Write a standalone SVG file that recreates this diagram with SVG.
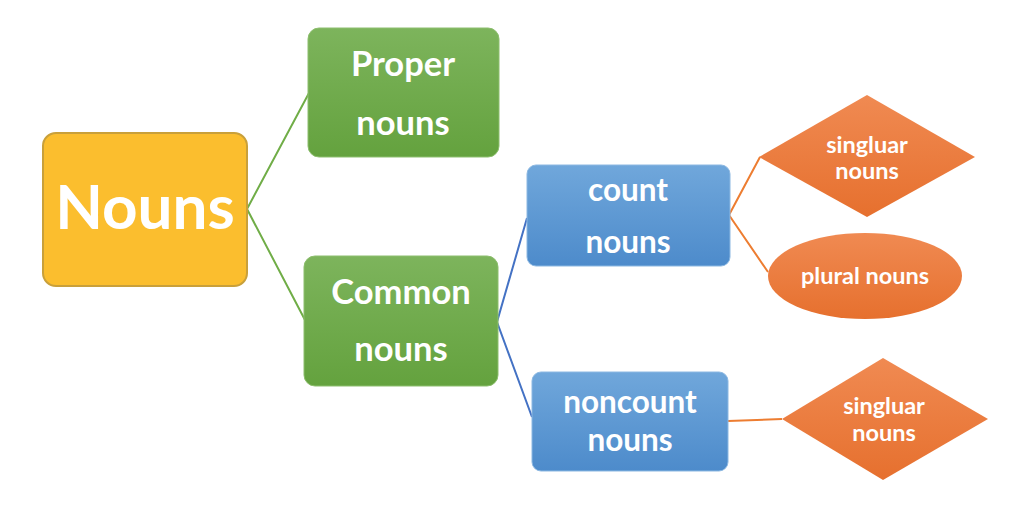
<svg xmlns="http://www.w3.org/2000/svg" width="1024" height="512" viewBox="0 0 1024 512">
<defs>
<linearGradient id="gGreen" x1="0" y1="0" x2="0" y2="1"><stop offset="0" stop-color="#7DB45C"/><stop offset="1" stop-color="#64A23E"/></linearGradient>
<linearGradient id="gBlue" x1="0" y1="0" x2="0" y2="1"><stop offset="0" stop-color="#70A7DB"/><stop offset="1" stop-color="#4D8BCB"/></linearGradient>
<linearGradient id="gOrange" x1="0" y1="0" x2="0" y2="1"><stop offset="0" stop-color="#F08A52"/><stop offset="1" stop-color="#E6702E"/></linearGradient>
</defs>
<style>
text{font-family:Lato,"Open Sans","Liberation Sans",sans-serif;font-weight:bold;fill:#FFFFFF;text-anchor:middle}
.green{fill:url(#gGreen);stroke:#8DBE6E;stroke-width:1}
.blue{fill:url(#gBlue);stroke:#8CB8E2;stroke-width:1}
.orange{fill:url(#gOrange);stroke:none}
.cg{stroke:#70AD47;stroke-width:2;fill:none}
.cb{stroke:#4472C4;stroke-width:2;fill:none}
.co{stroke:#ED7D31;stroke-width:2;fill:none}
.t34{font-size:34.5px}
.t31{font-size:31.5px}
.t24{font-size:23.5px}
</style>
<g id="connectors">
<polyline class="cg" points="309,93 247,209 305,320"/>
<polyline class="cb" points="527,218 497,322 532,417"/>
<polyline class="co" points="760,157 729,215 768,272"/>
<line class="co" x1="728" y1="421" x2="782" y2="419"/>
</g>
<g id="nouns">
<rect x="43" y="133" width="204" height="153" rx="13" fill="#FBBE2E" stroke="#C9A03A" stroke-width="2"/>
<text x="145" y="229" style="font-size:62px">Nouns</text>
</g>
<g id="proper">
<rect class="green" x="308" y="28" width="191" height="129" rx="11"/>
<text class="t34" x="403" y="76">Proper</text>
<text class="t34" x="403" y="135">nouns</text>
</g>
<g id="common">
<rect class="green" x="304" y="256" width="194" height="130" rx="11"/>
<text class="t34" x="401" y="304">Common</text>
<text class="t34" x="401" y="361">nouns</text>
</g>
<g id="count">
<rect class="blue" x="527" y="165" width="203" height="101" rx="9"/>
<text class="t31" x="628" y="201">count</text>
<text class="t31" x="628" y="253">nouns</text>
</g>
<g id="noncount">
<rect class="blue" x="532" y="372" width="196" height="99" rx="9"/>
<text class="t31" x="630" y="413">noncount</text>
<text class="t31" x="630" y="451">nouns</text>
</g>
<g id="singular1">
<polygon class="orange" points="759,157 867,95 975,157 867,217"/>
<text class="t24" x="867" y="153">singluar</text>
<text class="t24" x="867" y="179">nouns</text>
</g>
<g id="plural">
<ellipse class="orange" cx="865" cy="276" rx="97" ry="43"/>
<text class="t24" x="865" y="284">plural nouns</text>
</g>
<g id="singular2">
<polygon class="orange" points="782,419 883,358 988,419 883,480"/>
<text class="t24" x="884" y="414">singluar</text>
<text class="t24" x="884" y="441">nouns</text>
</g>
</svg>
